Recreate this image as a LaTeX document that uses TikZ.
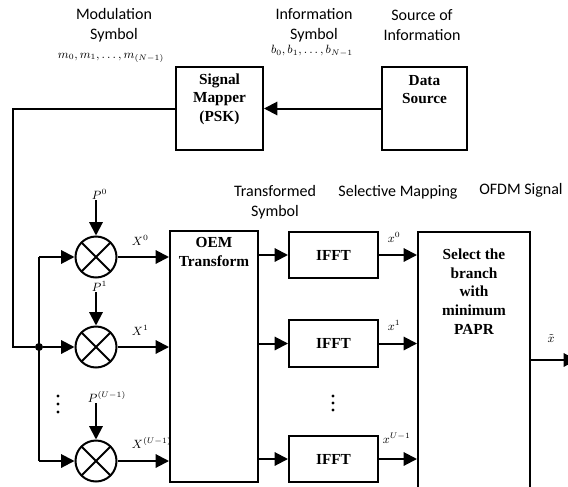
\documentclass[tikz,border=0pt]{standalone}
\usepackage{fontspec}
\usepackage{amsmath}
\setmainfont{Liberation Serif}
\newfontfamily\labelfont{Carlito}
\usetikzlibrary{arrows.meta}

\tikzset{
  wire/.style={line width=1.5pt},
  arr/.style={wire, -{Triangle[length=10pt,width=10pt]}},
  box/.style={draw, line width=1.5pt, rectangle, inner sep=0pt},
  boxtext/.style={font=\fontsize{11.5}{14}\selectfont\bfseries, align=center, inner sep=0pt},
  caption/.style={font=\labelfont\fontsize{12}{15}\selectfont, align=center, inner sep=0pt},
  sym/.style={font=\fontsize{9}{11}\selectfont, inner sep=0.5pt},
  mult/.style={draw, line width=1.5pt, circle, minimum size=30.75pt, inner sep=0pt,
    path picture={
      \draw[line width=1.5pt] (path picture bounding box.north west) -- (path picture bounding box.south east)
                              (path picture bounding box.north east) -- (path picture bounding box.south west);
    }},
  jdot/.style={circle, fill, minimum size=6pt, inner sep=0pt},
  vdot/.style={circle, fill, minimum size=2.4pt, inner sep=0pt},
}

\begin{document}
\begin{tikzpicture}[x=0.75pt, y=-0.75pt]
  \clip (0,0) rectangle (568,486);

  % captions
  \node[caption] (capmod) at (114,25) {Modulation\\Symbol};
  \node[caption] (capinf) at (314,25) {Information\\Symbol};
  \node[caption] (capsrc) at (422,25) {Source of\\Information};
  \node[caption] (captr)  at (275,202) {Transformed\\Symbol};
  \node[caption] (capsel) at (398,192) {Selective Mapping};
  \node[caption] (capofdm) at (521,190) {OFDM Signal};

  % symbol sequences
  \node[sym] (mseq) at (111,58) {$m_0, m_1, \dots, m_{(N-1)}$};
  \node[sym] (bseq) at (312,51) {$b_0, b_1, \dots, b_{N-1}$};

  % top blocks
  \node[box, minimum width=65.25pt, minimum height=62.25pt] (sm) at (219.5,108.5) {};
  \node[boxtext] (smtext) at (219.5,99) {Signal\\Mapper\\(PSK)};
  \node[box, minimum width=63.75pt, minimum height=62.25pt] (ds) at (424.5,108.5) {};
  \node[boxtext] (dstext) at (424.5,89.5) {Data\\Source};

  \draw[arr] (ds.west) -- (sm.east);

  % phase-sequence multipliers
  \node[mult] (m0) at (96,257) {};
  \node[mult] (m1) at (96,347) {};
  \node[mult] (m2) at (96,461) {};

  \node[jdot] (j) at (39,347) {};
  \coordinate (corner) at (13,108.5);
  \draw[wire] (sm.west) -- (corner) |- (j);
  \draw[wire] (j |- m0) -- (j |- m2);
  \draw[arr] (j |- m0) -- (m0.west);
  \draw[arr] (j) -- (m1.west);
  \draw[arr] (j |- m2) -- (m2.west);
  \foreach \yy in {396,404,412} \node[vdot] at (58,\yy) {};

  \node[sym, anchor=west] (p0) at (91,194) {$P^{0}$};
  \node[sym, anchor=west] (p1) at (91,286) {$P^{1}$};
  \node[sym, anchor=west] (p2) at (87,397) {$P^{(U-1)}$};
  \draw[arr] (p0.south -| m0) -- (m0.north);
  \draw[arr] (p1.south -| m0) -- (m1.north);
  \draw[arr] (p2.south -| m0) -- (m2.north);

  % OEM transform
  \node[box, minimum width=66pt, minimum height=188.25pt] (oem) at (214,356.5) {};
  \node[boxtext] (oemtext) at (214,252) {OEM\\Transform};

  \node[sym, anchor=west] (X0) at (131,240) {$X^{0}$};
  \node[sym, anchor=west] (X1) at (131,330) {$X^{1}$};
  \node[sym, anchor=west] (X2) at (131,443) {$X^{(U-1)}$};
  \draw[arr] (m0.east) -- (oem.west |- m0.east);
  \draw[arr] (m1.east) -- (oem.west |- m1.east);
  \draw[arr] (m2.east) -- (oem.west |- m2.east);

  % IFFT branches
  \node[box, minimum width=66.75pt, minimum height=34.5pt] (if0) at (333.5,255) {};
  \node[box, minimum width=66.75pt, minimum height=35.25pt] (if1) at (333.5,343.5) {};
  \node[box, minimum width=66.75pt, minimum height=34.5pt] (if2) at (333.5,459) {};
  \node[boxtext] (if0t) at (if0) {IFFT};
  \node[boxtext] (if1t) at (if1) {IFFT};
  \node[boxtext] (if2t) at (if2) {IFFT};
  \foreach \yy in {396,403,410} \node[vdot] at (333,\yy) {};

  \draw[arr] (oem.east |- if0.west) -- (if0.west);
  \draw[arr] (oem.east |- if1.west) -- (if1.west);
  \draw[arr] (oem.east |- if2.west) -- (if2.west);

  % selection block
  \node[box, minimum width=84pt, minimum height=201pt] (sel) at (474,366) {};
  \node[boxtext] (seltext) at (474,291.5) {Select the\\branch\\with\\minimum\\PAPR};

  \node[sym, anchor=west] (x0) at (387,237) {$x^{0}$};
  \node[sym, anchor=west] (x1) at (387,325) {$x^{1}$};
  \node[sym, anchor=west] (x2) at (382,438) {$x^{U-1}$};
  \draw[arr] (if0.east) -- (sel.west |- if0.east);
  \draw[arr] (if1.east) -- (sel.west |- if1.east);
  \draw[arr] (if2.east) -- (sel.west |- if2.east);

  % output
  \coordinate (out) at (577,360);
  \draw[arr] (sel.east |- out) -- (out);
  \node[sym] (xt) at (551,338) {$\tilde{x}$};
\end{tikzpicture}
\end{document}
